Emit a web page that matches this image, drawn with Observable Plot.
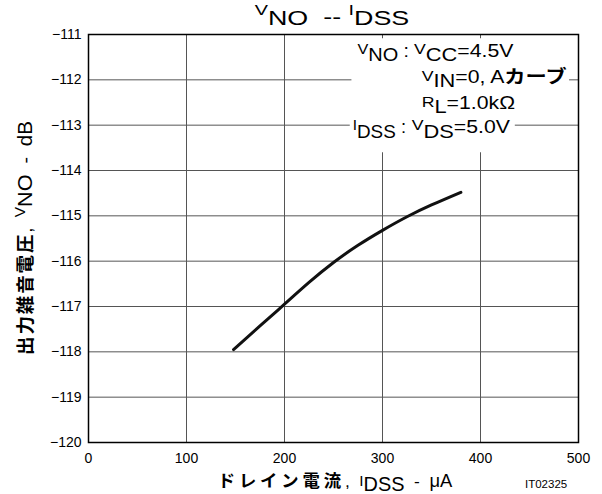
<!DOCTYPE html>
<html><head><meta charset="utf-8">
<script src="https://cdn.jsdelivr.net/npm/d3@7"></script>
<script src="https://cdn.jsdelivr.net/npm/@observablehq/plot@0.6"></script>
<style>
body{margin:0;background:#fff}
svg{font-family:"Liberation Sans",Arial,sans-serif}
</style>
</head><body><div id="chart"></div>
<script>
// ---- data ----
const xTicks = [0, 100, 200, 300, 400, 500];
const yTicks = [-120, -119, -118, -117, -116, -115, -114, -113, -112, -111];
const idss = [148, 175, 200, 225, 250, 275, 300, 325, 350, 380];       // µA
const vno  = [-117.95, -117.43, -116.95, -116.47, -116.03, -115.65, -115.32, -115.02, -114.76, -114.48]; // dB
const points = idss.map((x, i) => ({x, y: vno[i]}));

const LAT = '"Liberation Sans", Arial, sans-serif';
const JP = '"Noto Sans CJK JP", "Noto Sans CJK SC", sans-serif';

const plot = Plot.plot({
  width: 602, height: 494,
  marginLeft: 88, marginRight: 24, marginTop: 34, marginBottom: 52,
  style: {fontFamily: LAT, fontSize: "14px", color: "#000", background: "#fff"},
  x: {domain: [0, 500]},
  y: {domain: [-120, -111]},
  marks: [
    Plot.gridX(xTicks, {stroke: "#555", strokeOpacity: 1, strokeWidth: 1}),
    Plot.gridY(yTicks, {stroke: "#555", strokeOpacity: 1, strokeWidth: 1}),
    Plot.axisX(xTicks, {tickSize: 0, tickPadding: 11, fontSize: 14, label: null, tickFormat: d => String(d)}),
    Plot.axisY(yTicks, {tickSize: 0, tickPadding: 7, fontSize: 14, label: null, tickFormat: d => "\u2212" + Math.abs(d)}),
    Plot.line(points, {x: "x", y: "y", stroke: "#111", strokeWidth: 3, curve: "natural"}),
    Plot.frame({stroke: "#000", strokeWidth: 1.5})
  ]
});
document.getElementById("chart").appendChild(plot);

const svg = d3.select(plot);

// rich text helper: parts = [text, fontSize, baselineShift, weight, family, letterSpacing]
function rich(parent, x, y, parts, anchor, sx, rot) {
  const t = parent.append("text")
    .attr("x", 0).attr("y", 0)
    .attr("text-anchor", anchor || "start")
    .attr("fill", "#000")
    .attr("transform", `translate(${x},${y})${rot ? ` rotate(${rot})` : ""} scale(${sx || 1},1)`)
    .style("white-space", "pre");
  let cur = 0;
  for (const [s, size, shift, weight, family, ls] of parts) {
    const ts = t.append("tspan")
      .attr("dy", shift - cur)
      .attr("font-size", size)
      .attr("font-weight", weight || "normal")
      .attr("font-family", family || LAT)
      .text(s);
    if (ls) ts.attr("letter-spacing", ls);
    cur = shift;
  }
  return t;
}

// ---- title ----
rich(svg, 332, 25, [
  ["V", 15.5, -10], ["NO", 21, 0], ["\u00a0\u00a0--\u00a0", 21, -1], ["I", 15.5, -10], ["DSS", 21, 0]
], "middle", 1.28);

// ---- annotation ----
const S = 1.18;
const gA = svg.append("g");
const gB = svg.append("g");
rich(gA, 409, 56.7, [["V", 15, -2.5], ["NO", 18.5, 4], ["\u00a0:", 18, 0]], "end", 1.08);
rich(gA, 414, 56.7, [["V", 15, -2.5], ["CC", 18.5, 4], ["=4.5V", 18, 0]], "start", S);
rich(gA, 421.7, 83.3, [["V", 15, -2.5], ["IN", 18.5, 4], ["=0, A", 18, 0], ["カーブ", 18, 0, "bold", JP]], "start", S);
rich(gA, 421.7, 109.3, [["R", 15, -2.5], ["L", 18.5, 4], ["=1.0k\u03a9", 18, 0]], "start", S);
rich(gB, 406, 133.3, [["I", 15, -3], ["DSS", 18.5, 5], ["\u00a0:", 18, 0]], "end", 1.02);
rich(gB, 411.7, 133.3, [["V", 15, -3.5], ["DS", 18.5, 5], ["=5.0V", 18, 0]], "start", S);

function box(g, pad) {
  const b = g.node().getBBox();
  g.insert("rect", ":first-child")
    .attr("x", b.x - pad[0]).attr("y", b.y - pad[2])
    .attr("width", b.width + pad[0] + pad[1])
    .attr("height", b.height + pad[2] + pad[3])
    .attr("fill", "#fff");
}
box(gA, [6, 2, 2, 2]);
box(gB, [3, 4, 2, 10]);

// ---- y label ----
rich(svg, 32, 238, [
  ["出力雑音電圧", 18, 0, "bold", JP, 1.8], [",\u00a0\u00a0", 18, 0], ["V", 15, -7], ["NO", 21, 0],
  ["\u00a0\u00a0-\u00a0\u00a0", 19, 0], ["dB", 20, 0]
], "middle", 1.03, -90);

// ---- x label ----
rich(svg, 335, 487, [
  ["ドレイン電流", 17, 0, "bold", JP, 3.8], [",\u00a0\u00a0", 17, 0], ["I", 15, -1], ["DSS", 19.5, 4],
  ["\u00a0\u00a0-\u00a0\u00a0", 17, 0], ["\u03bcA", 18, 0]
], "middle", 1.02);

rich(svg, 525, 488, [["IT02325", 11.5, 0]], "start");
</script>
</body></html>
